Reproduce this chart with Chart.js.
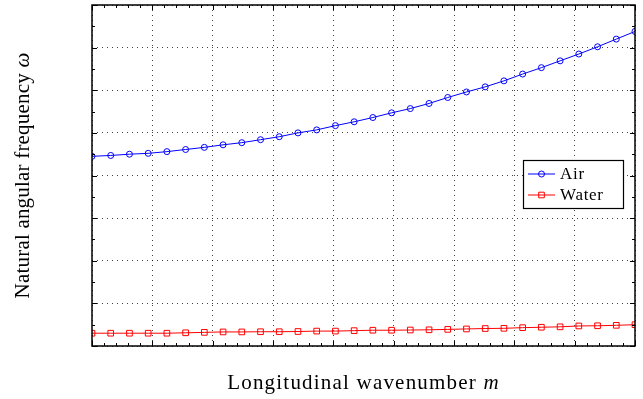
<!DOCTYPE html>
<html lang="en">
<head>
  <meta charset="UTF-8">
  <title>Natural angular frequency vs longitudinal wavenumber</title>
  <script src="https://cdn.jsdelivr.net/npm/chart.js"></script>
  <style>
    html, body { margin: 0; padding: 0; background: #fff; }
    canvas { display: block; }
  </style>
</head>
<body>
  <canvas id="freqChart" width="643" height="399"></canvas>

  <script>
    // values (no tick labels were printed)
    const wavenumbers = [1, 2, 3, 4, 5, 6, 7, 8, 9, 10, 11, 12, 13, 14, 15,
                         16, 17, 18, 19, 20, 21, 22, 23, 24, 25, 26, 27, 28, 29, 30];
    const airFreq = [4.45, 4.47, 4.50, 4.52, 4.56, 4.61, 4.66, 4.72, 4.77, 4.84,
                     4.91, 5.00, 5.07, 5.17, 5.26, 5.36, 5.47, 5.57, 5.69, 5.83,
                     5.96, 6.08, 6.22, 6.38, 6.53, 6.69, 6.85, 7.02, 7.20, 7.38];
    const waterFreq = [0.30, 0.30, 0.30, 0.30, 0.30, 0.31, 0.32, 0.33, 0.33, 0.335,
                       0.335, 0.34, 0.35, 0.35, 0.36, 0.37, 0.37, 0.375, 0.38, 0.39,
                       0.40, 0.41, 0.415, 0.43, 0.44, 0.45, 0.47, 0.475, 0.485, 0.50];
    const seriesNames = ['Air', 'Water'];
    const xTitle = ['Longitudinal wavenumber ', 'm'];
    const yTitle = ['Natural angular frequency ', '\u03c9'];
    const yMin = 0, yMax = 8;

    const serif = '"Liberation Serif", "DejaVu Serif", serif';

    // draw "plain text + italic symbol" centred on (0,0)
    function mixedText(ctx, parts, size, spacing) {
      ctx.letterSpacing = spacing + 'px';
      ctx.font = size + 'px ' + serif;
      const w0 = ctx.measureText(parts[0]).width;
      ctx.font = 'italic ' + size + 'px ' + serif;
      const w1 = ctx.measureText(parts[1]).width;
      let x = -(w0 + w1) / 2;
      ctx.textAlign = 'left';
      ctx.textBaseline = 'alphabetic';
      ctx.font = size + 'px ' + serif;
      ctx.fillText(parts[0], x, 0);
      ctx.font = 'italic ' + size + 'px ' + serif;
      ctx.fillText(parts[1], x + w0, 0);
      ctx.letterSpacing = '0px';
    }

    const matlabFrame = {
      id: 'matlabFrame',
      afterDraw(chart) {
        const { ctx, chartArea: a, scales: { x, y } } = chart;
        ctx.save();
        ctx.strokeStyle = '#000';
        ctx.lineWidth = 1;
        const seg = (x1, y1, x2, y2) => {
          ctx.beginPath(); ctx.moveTo(x1, y1); ctx.lineTo(x2, y2); ctx.stroke();
        };

        // inward ticks, 5 minor per major on x, 2 on y, all four sides
        const nx = 45;
        for (let k = 0; k <= nx; k++) {
          const px = Math.round(x.getPixelForValue(x.min + k * (x.max - x.min) / nx)) + 0.5;
          const len = k % 5 === 0 ? 5 : 3;
          seg(px, a.bottom, px, a.bottom - len);
          seg(px, a.top, px, a.top + len);
        }
        const ny = 16;
        for (let k = 0; k <= ny; k++) {
          const py = Math.round(y.getPixelForValue(y.min + k * (y.max - y.min) / ny)) + 0.5;
          const len = k % 2 === 0 ? 5 : 3;
          seg(a.left, py, a.left + len, py);
          seg(a.right, py, a.right - len, py);
        }

        ctx.lineWidth = 1.5;
        ctx.strokeRect(a.left, a.top, a.right - a.left, a.bottom - a.top);

        // legend box
        const lx = a.right - 112, ly = a.top + 155, lw = 100, lh = 48;
        ctx.fillStyle = '#fff';
        ctx.fillRect(lx, ly, lw, lh);
        ctx.lineWidth = 1.2;
        ctx.strokeRect(lx + 0.5, ly + 0.5, lw, lh);
        chart.data.datasets.forEach((ds, i) => {
          const ry = ly + 14 + i * 21;
          ctx.strokeStyle = ds.borderColor;
          ctx.lineWidth = 1;
          seg(lx + 5, ry, lx + 32, ry);
          ctx.beginPath();
          if (ds.pointStyle === 'rect') {
            ctx.rect(lx + 18.5 - 2.8, ry - 2.8, 5.6, 5.6);
          } else {
            ctx.arc(lx + 18.5, ry, 3, 0, Math.PI * 2);
          }
          ctx.stroke();
          ctx.fillStyle = '#000';
          ctx.font = '17px ' + serif;
          ctx.letterSpacing = '0.7px';
          ctx.textAlign = 'left';
          ctx.textBaseline = 'middle';
          ctx.fillText(ds.label, lx + 37, ry + 1);
          ctx.letterSpacing = '0px';
        });

        // axis titles
        ctx.fillStyle = '#000';
        ctx.save();
        ctx.translate((a.left + a.right) / 2, a.bottom + 43);
        mixedText(ctx, xTitle, 21, 1.2);
        ctx.restore();
        ctx.save();
        ctx.translate(29, (a.top + a.bottom) / 2);
        ctx.rotate(-Math.PI / 2);
        mixedText(ctx, yTitle, 21, 0.2);
        ctx.restore();

        ctx.restore();
      }
    };

    const ctx = document.getElementById('freqChart').getContext('2d');
    const chart = new Chart(ctx, {
      type: 'line',
      data: {
        datasets: [
          {
            label: seriesNames[0],
            data: wavenumbers.map((m, i) => ({ x: m, y: airFreq[i] })),
            borderColor: '#0000ff',
            backgroundColor: 'rgba(0,0,0,0)',
            borderWidth: 1,
            pointStyle: 'circle',
            pointRadius: 3,
            pointBorderWidth: 1,
            tension: 0,
          },
          {
            label: seriesNames[1],
            data: wavenumbers.map((m, i) => ({ x: m, y: waterFreq[i] })),
            borderColor: '#ff0000',
            backgroundColor: 'rgba(0,0,0,0)',
            borderWidth: 1,
            pointStyle: 'rect',
            pointRadius: 4,
            pointBorderWidth: 1,
            tension: 0,
          },
        ],
      },
      options: {
        responsive: false,
        animation: false,
        events: [],
        layout: { padding: { top: 4, right: 8, left: 0, bottom: 0 } },
        plugins: { legend: { display: false }, tooltip: { enabled: false } },
        scales: {
          x: {
            type: 'linear',
            min: wavenumbers[0],
            max: wavenumbers[wavenumbers.length - 1],
            afterBuildTicks: (scale) => {
              const t = [];
              for (let k = 0; k <= 9; k++) t.push({ value: scale.min + k * (scale.max - scale.min) / 9 });
              scale.ticks = t;
            },
            afterFit: (scale) => { scale.height = 53; },
            ticks: { display: false },
            grid: { color: 'rgba(0,0,0,0.75)', lineWidth: 1, drawTicks: false },
            border: { display: false, dash: [1, 4] },
          },
          y: {
            min: yMin,
            max: yMax,
            ticks: { display: false, stepSize: 1 },
            afterFit: (scale) => { scale.width = 92; },
            grid: { color: 'rgba(0,0,0,0.75)', lineWidth: 1, drawTicks: false },
            border: { display: false, dash: [1, 4] },
          },
        },
      },
      plugins: [matlabFrame],
    });
  </script>
</body>
</html>
